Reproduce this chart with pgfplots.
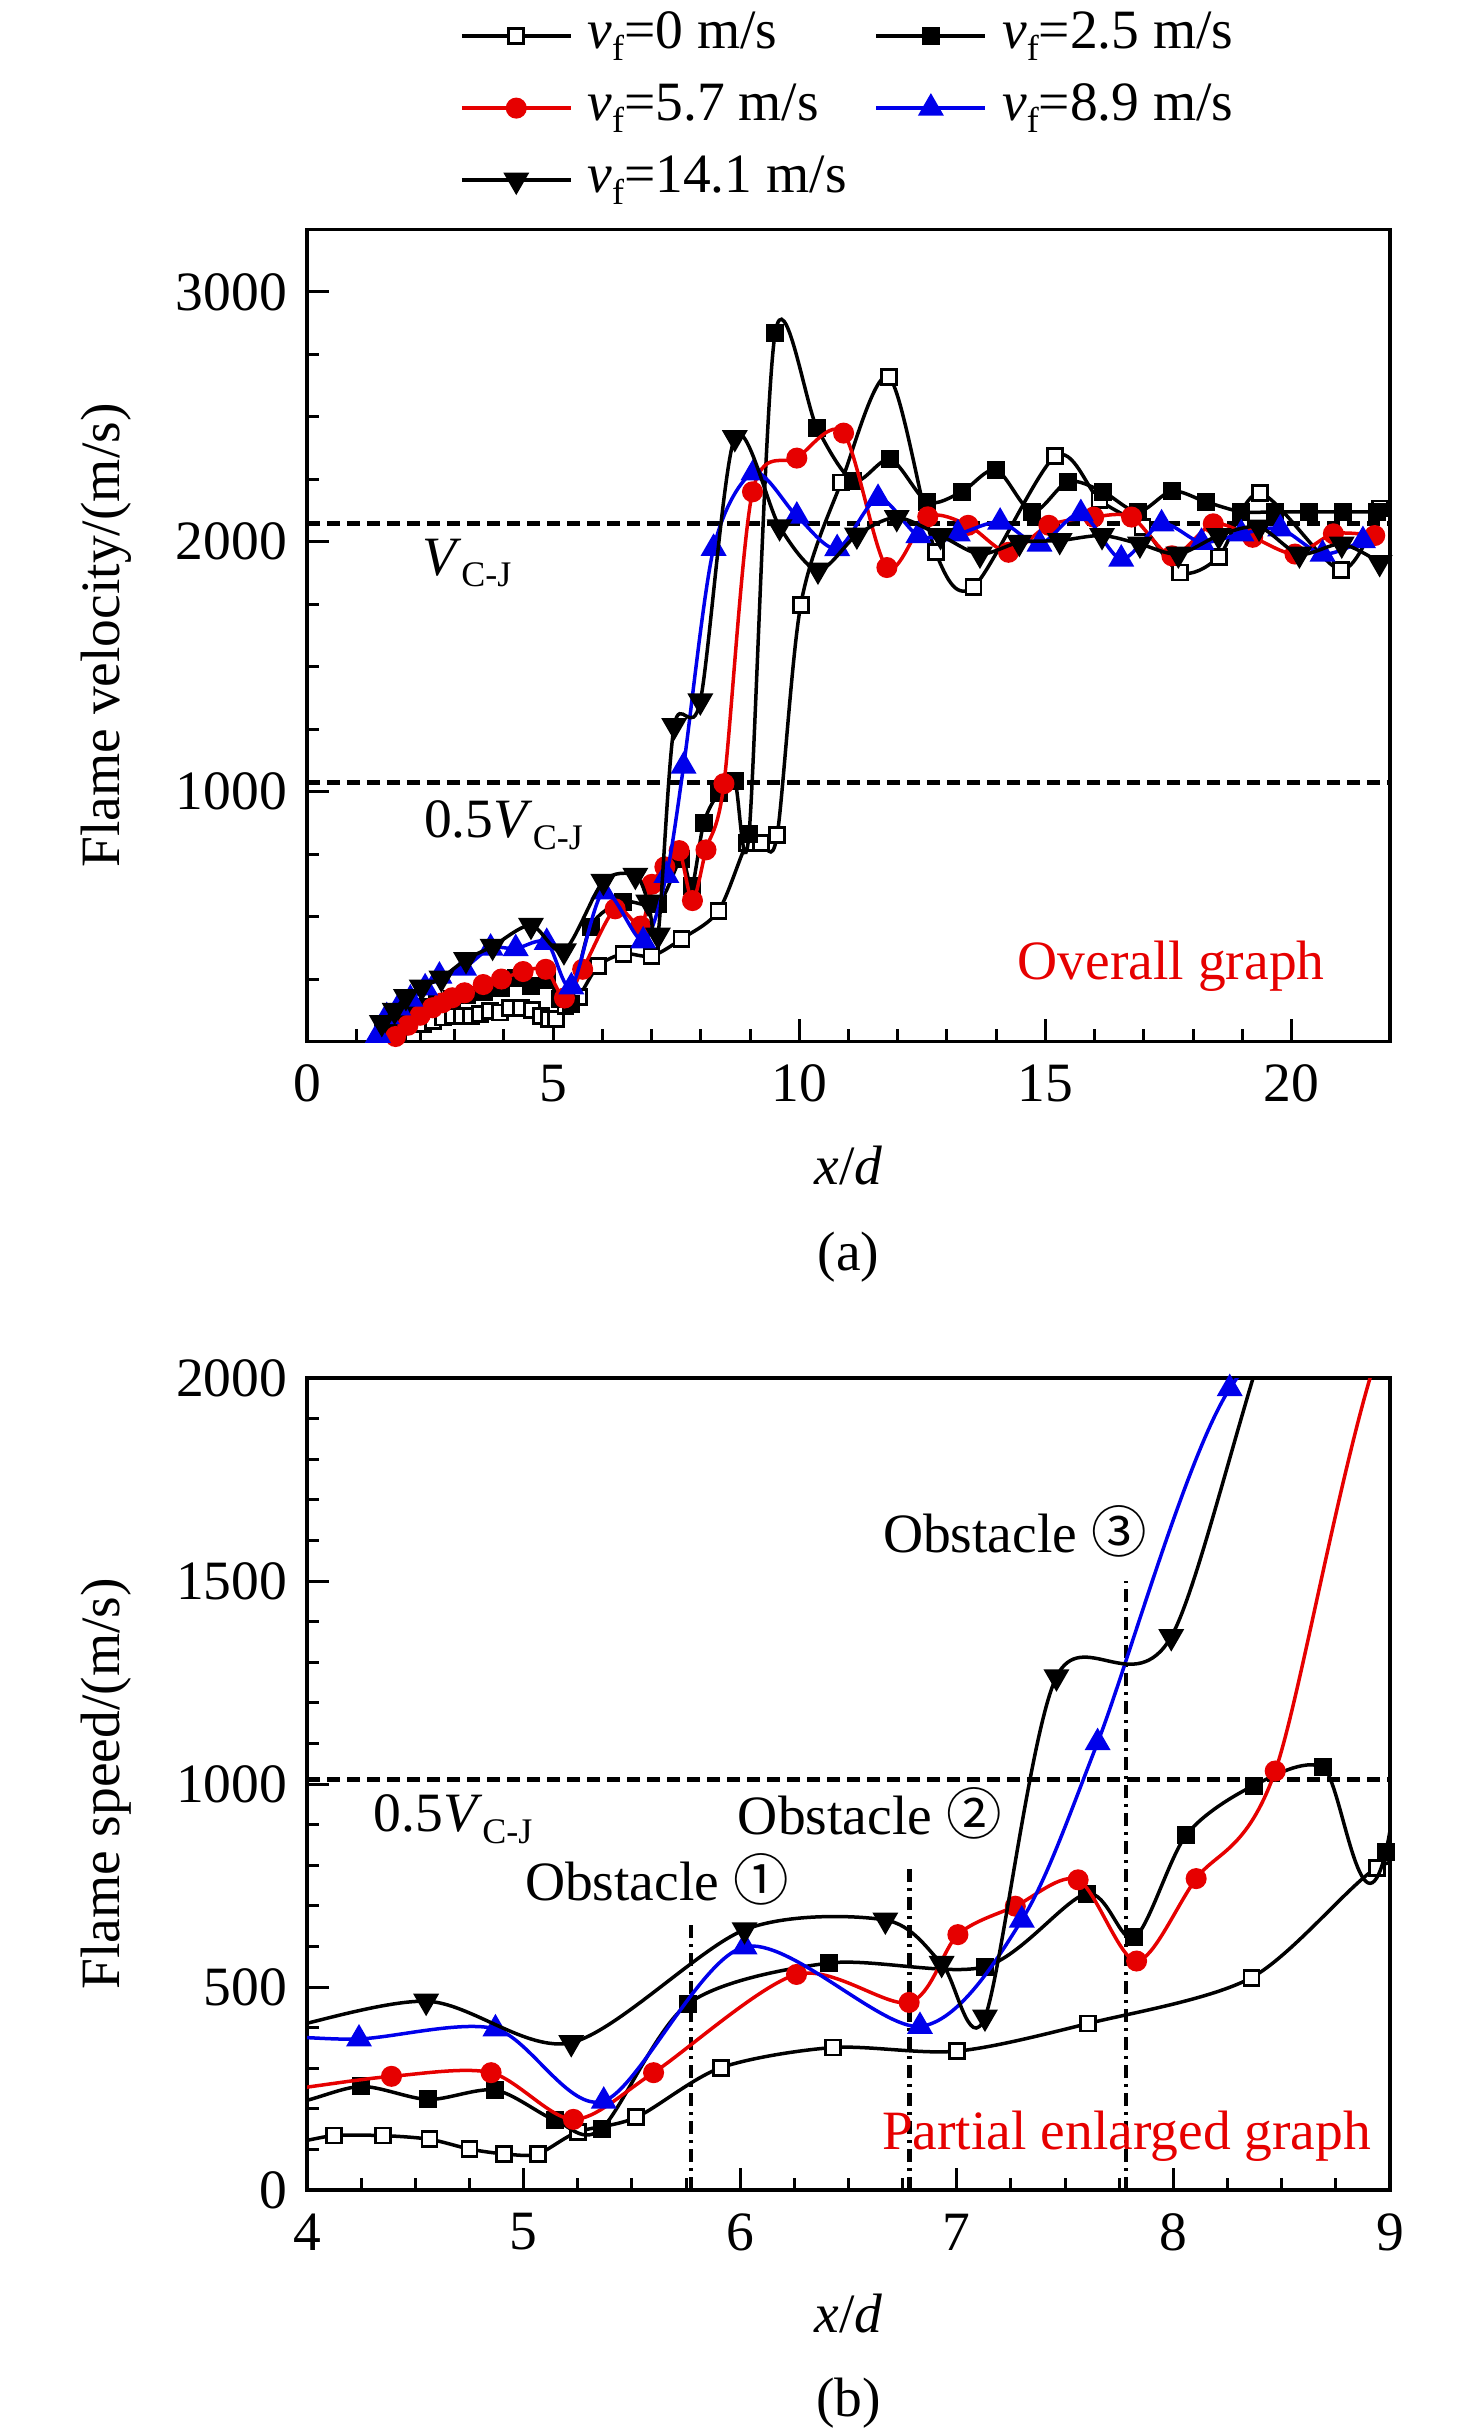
\documentclass[border=0pt]{standalone}
\usepackage{fontspec}
\setmainfont{Liberation Serif}
\newfontfamily\cjk{Noto Sans CJK SC}
\usepackage{pgfplots}
\usepackage{pgfplotstable}
\pgfplotsset{compat=1.18}
\definecolor{myred}{RGB}{230,0,0}
\definecolor{myblue}{RGB}{0,0,235}
\newcommand\sub[1]{\raisebox{-2.3pt}{\fontsize{7.2}{8}\selectfont #1}}

\pgfplotstableread{
x y
2.15 29
2.36 69
2.56 83
2.76 96
2.97 103
3.15 103
3.33 103
3.51 109
3.71 123
3.92 116
4.125 134
4.35 134
4.565 125
4.75 101
4.91 89
5.065 89
5.25 143
5.52 179
5.91 301
6.43 351
7.0 342
7.605 410
8.36 523
8.94 794
9.23 795
9.55 825
10.03 1748
10.85 2237
11.82 2659
12.77 1958
13.54 1820
15.2 2342
16.1 2167
16.97 2059
17.74 1877
18.52 1940
19.36 2194
21.0 1887
21.79 2133
}\tzero

\pgfplotstableread{
x y
1.55 55
1.8 95
2.05 120
2.35 140
2.65 155
2.95 170
3.25 185
3.6 200
3.95 215
4.25 255
4.56 223
4.87 246
5.145 172
5.36 151
5.76 459
6.41 559
7.13 550
7.6 730
7.82 622
8.06 875
8.37 996
8.69 1041
8.98 832
9.51 2835
10.36 2456
11.1 2244
11.85 2330
12.6 2160
13.3 2200
14.0 2288
14.73 2120
15.46 2241
16.17 2200
16.88 2120
17.57 2203
18.26 2160
18.98 2120
19.66 2120
20.35 2120
21.04 2120
21.73 2120
}\ttwo

\pgfplotstableread{
x y
1.8 20
2.05 65
2.3 105
2.55 135
2.75 155
2.95 175
3.2 195
3.58 228
3.95 250
4.39 280
4.85 289
5.23 174
5.60 289
6.26 531
6.78 462
7.005 629
7.27 699
7.56 764
7.83 564
8.105 767
8.47 1032
9.05 2200
9.95 2335
10.9 2435
11.78 1897
12.61 2100
13.43 2066
14.25 1958
15.07 2066
15.98 2099
16.75 2099
17.57 1944
18.41 2072
19.21 2018
20.07 1951
20.85 2032
21.69 2025
}\tfive

\pgfplotstableread{
x y
1.44 25
1.62 100
1.85 135
2.1 170
2.4 215
2.69 262
3.19 294
3.73 374
4.24 372
4.87 397
5.37 219
6.02 599
6.83 403
7.30 665
7.65 1102
8.26 1974
9.07 2276
9.95 2103
10.77 1973
11.6 2174
12.42 2025
13.22 2032
14.08 2079
14.88 1991
15.72 2113
16.54 1931
17.36 2072
18.17 1998
18.98 2032
19.77 2052
20.63 1951
21.45 2005
}\teight

\pgfplotstableread{
x y
1.52 76
1.78 125
2.01 180
2.33 218
2.73 254
3.23 328
3.77 381
4.55 465
5.22 363
6.02 641
6.67 665
6.93 558
7.13 426
7.46 1264
7.99 1363
8.69 2417
9.6 2060
10.38 1887
11.17 2027
11.98 2097
12.87 2025
13.67 1951
14.47 1998
15.29 2005
16.15 2025
16.92 1991
17.7 1951
18.52 2025
19.34 2059
20.16 1951
21.02 1991
21.79 1917
}\tfourteen

\pgfplotsset{
  myaxis/.style={
    scale only axis, width=216.6pt, height=162.4pt,
    clip mode=individual,
    axis line style={line width=0.7pt},
    tick align=inside, xtick pos=bottom, ytick pos=left,
    major tick length=4.4pt, minor tick length=2.4pt,
    every tick/.style={line width=0.6pt, black},
    tick label style={font=\fontsize{11.1}{13.3}\selectfont},
    /pgf/number format/assume math mode=true,
    /pgf/number format/1000 sep={},
    xticklabel style={inner sep=0pt, anchor=center, yshift=-8.4pt},
    yticklabel style={inner sep=0pt, anchor=east, xshift=-3.8pt},
    label style={font=\fontsize{11.1}{13.3}\selectfont},
    ylabel style={at={(axis description cs:-0.1856,0.5)}, anchor=center},
    xlabel style={at={(axis description cs:0.5,-0.1527)}, anchor=center},
  },
  s0/.style={black, line width=0.7pt, smooth, mark=square*, mark options={solid, fill=white, draw=black, line width=0.55pt, mark size=1.5pt}},
  s25/.style={black, line width=0.7pt, smooth, mark=square*, mark options={solid, fill=black, draw=black, mark size=1.45pt}},
  s57/.style={myred, line width=0.7pt, smooth, mark=*, mark options={solid, fill=myred, draw=myred, mark size=1.75pt}},
  s89/.style={myblue, line width=0.7pt, smooth, mark=triangle*, mark options={solid, fill=myblue, draw=myblue, mark size=2.3pt}},
  s141/.style={black, line width=0.7pt, smooth, mark=triangle*, mark options={solid, fill=black, draw=black, rotate=180, mark size=2.3pt}},
  refline/.style={black, line width=0.9pt, dash pattern=on 2.6pt off 1.4pt, forget plot},
  obsline/.style={black, line width=0.9pt, dash pattern=on 2.6pt off 1.2pt on 0.6pt off 1.2pt, forget plot},
}

\begin{document}
\fontsize{11.1}{13.3}\selectfont
\begin{tikzpicture}
\begin{axis}[myaxis,
  xmin=0, xmax=22, ymin=0, ymax=3250,
  xtick={0,5,10,15,20}, minor x tick num=4,
  ytick={0,1000,2000,3000}, yticklabels={,1000,2000,3000}, minor y tick num=3,
  ylabel={Flame velocity/(m/s)},
  xlabel={\textit{x}/\textit{d}},
  legend columns=2,
  legend cell align=left,
  legend image code/.code={\draw[mark repeat=2,mark phase=2,#1] plot coordinates {(0pt,0pt) (10.9pt,0pt) (21.8pt,0pt)};},
  legend style={at={(axis description cs:0.1413,1.272)}, anchor=north west, draw=none, fill=none,
    inner sep=0pt, outer sep=0pt, row sep=3.4pt,
    nodes={inner sep=0pt, text height=8pt, text depth=3pt, font=\fontsize{11.1}{13.3}\selectfont},
    /tikz/every odd column/.append style={column sep=3pt},
    /tikz/every even column/.append style={column sep=5.6pt}},
]
\addplot[refline] coordinates {(0,2073) (22,2073)};
\addplot[refline] coordinates {(0,1037) (22,1037)};
\addplot[s0] table {\tzero};
\addlegendentry{\textit{v}\sub{f}=0 m/s}
\addplot[s25] table {\ttwo};
\addlegendentry{\textit{v}\sub{f}=2.5 m/s}
\addplot[s57] table {\tfive};
\addlegendentry{\textit{v}\sub{f}=5.7 m/s}
\addplot[s89] table {\teight};
\addlegendentry{\textit{v}\sub{f}=8.9 m/s}
\addplot[s141] table {\tfourteen};
\addlegendentry{\textit{v}\sub{f}=14.1 m/s}
\node[anchor=base west, inner sep=0pt] at (axis cs:2.32,1866) {\textit{V}\sub{C-J}};
\node[anchor=base west, inner sep=0pt] at (axis cs:2.36,815) {0.5\textit{V}\sub{C-J}};
\node[anchor=base west, inner sep=0pt, text=myred] at (axis cs:14.42,250) {Overall graph};
\node[anchor=center] at (axis description cs:0.5,-0.266) {(a)};
\end{axis}

\begin{axis}[myaxis, at={(0,-229.7pt)}, anchor=south west,
  xmin=4, xmax=9, ymin=0, ymax=2000,
  xtick={4,5,6,7,8,9}, minor x tick num=3,
  ytick={0,500,1000,1500,2000}, minor y tick num=4,
  ylabel={Flame speed/(m/s)},
  xlabel={\textit{x}/\textit{d}},
]
\addplot[refline] coordinates {(4,1011) (9,1011)};
\addplot[obsline] coordinates {(5.772,0) (5.772,660)};
\addplot[obsline] coordinates {(6.782,0) (6.782,804)};
\addplot[obsline] coordinates {(7.78,0) (7.78,1501)};
\addplot[s0] table {\tzero};
\addplot[s25] table {\ttwo};
\addplot[s57] table {\tfive};
\addplot[s89] table {\teight};
\addplot[s141] table {\tfourteen};
\node[anchor=base west, inner sep=0pt] at (axis cs:4.304,882) {0.5\textit{V}\sub{C-J}};
\node[anchor=base west, inner sep=0pt] at (axis cs:5.002,713) {Obstacle {\cjk ①}};
\node[anchor=base west, inner sep=0pt] at (axis cs:5.985,875) {Obstacle {\cjk ②}};
\node[anchor=base west, inner sep=0pt] at (axis cs:6.655,1571) {Obstacle {\cjk ③}};
\node[anchor=base west, inner sep=0pt, text=myred] at (axis cs:6.65,101) {Partial enlarged graph};
\node[anchor=center] at (axis description cs:0.5,-0.263) {(b)};
\end{axis}
\pgfresetboundingbox
\useasboundingbox (-61.4pt,-278.5pt) rectangle (233.8pt,208.3pt);
\end{tikzpicture}
\end{document}
